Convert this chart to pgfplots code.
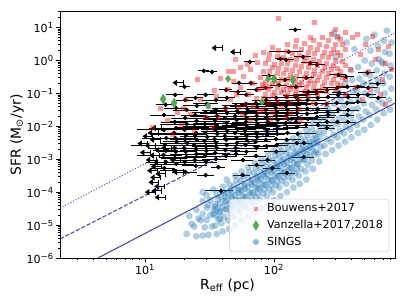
\documentclass[border=0pt]{standalone}
\usepackage{fontspec}
\setmainfont{DejaVu Sans}
\usepackage{pgfplots}
\usepackage{pgfplotstable}
\pgfplotsset{compat=1.18}
\definecolor{singsblue}{HTML}{1F77B4}
\definecolor{lineblue}{RGB}{35,35,165}
\definecolor{vgreen}{RGB}{77,172,77}
\pgfdeclareplotmark{ulim}{%
  \pgfpathmoveto{\pgfqpoint{0pt}{-2pt}}\pgfpathlineto{\pgfqpoint{0pt}{2pt}}%
  \pgfpathmoveto{\pgfqpoint{0pt}{0pt}}\pgfpathlineto{\pgfqpoint{-6pt}{0pt}}%
  \pgfusepathqstroke
  \pgfpathmoveto{\pgfqpoint{-7pt}{0pt}}\pgfpathlineto{\pgfqpoint{-4.6pt}{1.7pt}}%
  \pgfpathlineto{\pgfqpoint{-4.6pt}{-1.7pt}}\pgfpathclose
  \pgfusepathqfillstroke}
\pgfplotsset{myleg/.style={legend image code/.code={\path (-14.4pt,0pt) (3pt,0pt);\draw[##1] plot coordinates {(0pt,0pt)};}}}

\pgfplotstableread{
R S
21 5.4e-6
23 1.1e-5
22 1.9e-5
25 4.6e-6
24 9.1e-6
26 1.6e-5
25 2.9e-5
28 1.0e-4
28 4.8e-6
29 8.6e-6
27 1.4e-5
28 2.2e-5
30 3.4e-5
28 5.4e-5
31 5.1e-6
33 9.1e-6
30 1.45e-5
32 2.0e-5
34 2.9e-5
31 4.1e-5
32 5.8e-5
30 8.1e-5
36 5.4e-6
35 9.7e-6
37 1.5e-5
34 2.2e-5
36 3.1e-5
35 4.3e-5
37 6.1e-5
36 8.6e-5
34 1.2e-4
40 6.5e-6
39 1.15e-5
41 1.8e-5
38 2.6e-5
40 3.6e-5
42 5.1e-5
39 7.2e-5
41 1.0e-4
40 1.45e-4
45 7.7e-6
44 1.4e-5
46 2.2e-5
43 3.1e-5
45 4.3e-5
47 6.1e-5
44 8.6e-5
46 1.2e-4
45 1.7e-4
43 2.4e-4
50 1.0e-5
49 1.8e-5
52 2.9e-5
48 4.1e-5
51 5.8e-5
50 8.1e-5
53 1.15e-4
49 1.6e-4
51 2.3e-4
50 3.2e-4
56 1.4e-5
55 2.4e-5
58 3.8e-5
54 5.4e-5
57 7.7e-5
56 1.1e-4
59 1.5e-4
55 2.2e-4
57 3.1e-4
56 4.3e-4
63 1.8e-5
62 3.2e-5
65 5.1e-5
61 7.2e-5
64 1.0e-4
63 1.45e-4
66 2.0e-4
62 2.9e-4
64 4.1e-4
63 5.8e-4
71 2.4e-5
70 4.3e-5
73 6.8e-5
69 9.7e-5
72 1.4e-4
71 1.9e-4
74 2.7e-4
70 3.8e-4
72 5.4e-4
71 7.7e-4
79 3.2e-5
78 5.8e-5
82 9.1e-5
77 1.3e-4
80 1.8e-4
79 2.6e-4
83 3.6e-4
78 5.1e-4
81 7.2e-4
80 1.0e-3
89 4.3e-5
88 7.7e-5
92 1.2e-4
87 1.7e-4
90 2.4e-4
89 3.4e-4
93 4.8e-4
88 6.8e-4
91 9.7e-4
90 1.4e-3
100 5.8e-5
98 1.0e-4
103 1.6e-4
97 2.3e-4
101 3.2e-4
100 4.6e-4
104 6.5e-4
98 9.1e-4
102 1.3e-3
100 1.8e-3
112 7.7e-5
110 1.4e-4
115 2.2e-4
109 3.1e-4
113 4.3e-4
112 6.1e-4
116 8.6e-4
110 1.2e-3
114 1.7e-3
112 2.4e-3
126 1.0e-4
124 1.8e-4
129 2.9e-4
122 4.1e-4
127 5.8e-4
126 8.1e-4
130 1.15e-3
124 1.6e-3
128 2.3e-3
126 3.2e-3
141 1.4e-4
139 2.4e-4
145 3.8e-4
137 5.4e-4
143 7.7e-4
141 1.1e-3
146 1.5e-3
139 2.2e-3
144 3.1e-3
141 4.3e-3
158 1.8e-4
156 3.2e-4
162 5.1e-4
154 7.2e-4
160 1.0e-3
158 1.45e-3
164 2.0e-3
156 2.9e-3
161 4.1e-3
158 5.8e-3
178 2.4e-4
175 4.3e-4
182 6.8e-4
173 9.7e-4
180 1.4e-3
178 1.9e-3
184 2.7e-3
175 3.8e-3
181 5.4e-3
178 7.7e-3
200 5.1e-4
196 9.1e-4
205 1.45e-3
198 2.0e-3
203 2.9e-3
200 4.1e-3
207 5.8e-3
197 8.1e-3
202 1.3e-2
224 8.6e-4
220 1.5e-3
230 2.4e-3
218 3.4e-3
226 4.8e-3
222 6.8e-3
232 1.1e-2
225 1.7e-2
251 1.45e-3
246 2.6e-3
258 4.1e-3
244 6.5e-3
255 1.0e-2
250 1.8e-2
260 3.6e-2
282 1.9e-3
276 3.4e-3
290 5.4e-3
279 8.6e-3
286 1.4e-2
280 2.4e-2
292 4.8e-2
316 2.6e-3
310 4.6e-3
325 7.2e-3
312 1.15e-2
320 1.8e-2
318 3.2e-2
328 6.5e-2
314 0.126
355 3.4e-3
348 6.1e-3
362 9.7e-3
352 1.5e-2
358 2.4e-2
350 4.3e-2
365 8.6e-2
356 0.2
398 4.6e-3
390 8.1e-3
410 1.3e-2
395 2.0e-2
402 3.2e-2
388 5.8e-2
412 0.115
400 0.25
395 0.5
447 6.3e-3
440 1.1e-2
455 2.0e-2
445 3.5e-2
452 6.3e-2
438 0.126
458 0.28
448 0.63
501 7.9e-3
490 1.6e-2
515 2.8e-2
498 5.0e-2
508 0.1
495 0.2
512 0.4
505 1.0
562 1.1e-2
550 2.2e-2
575 4.5e-2
558 8.9e-2
568 0.18
555 0.35
572 0.8
560 2.0
631 1.6e-2
620 3.2e-2
645 6.3e-2
628 0.126
640 0.25
625 0.5
650 1.1
635 2.8
708 2.5e-2
695 5.0e-2
720 0.1
705 0.2
715 0.4
700 0.8
725 1.8
710 4.0
794 3.2e-2
780 6.3e-2
810 0.14
790 0.32
800 0.7
785 1.6
815 3.5
290 7.0
310 5.0
365 3.5
300 1.3
420 2.2
600 6.0
750 8.0
520 4.5
680 0.9
35 2.0e-5
35 3.6e-5
38 2.5e-5
38 4.5e-5
38 1.6e-5
42 3.0e-5
42 5.5e-5
42 7.5e-5
47 4.0e-5
47 7.0e-5
47 1.0e-4
47 2.8e-5
53 5.5e-5
53 9.5e-5
53 1.3e-4
53 3.8e-5
59 7.0e-5
59 1.25e-4
59 1.8e-4
59 5.0e-5
67 9.5e-5
67 1.7e-4
67 2.4e-4
67 6.5e-5
75 1.3e-4
75 2.3e-4
75 3.2e-4
75 9.0e-5
84 1.7e-4
84 3.0e-4
84 4.2e-4
84 1.2e-4
95 2.3e-4
95 4.1e-4
95 5.8e-4
95 1.6e-4
106 3.0e-4
106 5.4e-4
106 7.6e-4
106 2.1e-4
119 4.0e-4
119 7.2e-4
119 1.0e-3
119 2.8e-4
134 5.4e-4
134 9.6e-4
134 1.35e-3
134 3.8e-4
150 7.2e-4
150 1.3e-3
150 1.8e-3
150 5.0e-4
168 9.5e-4
168 1.7e-3
168 2.4e-3
190 1.3e-3
190 2.3e-3
190 3.3e-3
212 1.7e-3
212 3.1e-3
212 4.3e-3
}\sings

\pgfplotstableread{
R S ex
14.0 0.0078 0.38
14.6 0.0044 0.3
14.2 0.0027 0.45
14.8 0.0019 0.22
13.9 0.00135 0.38
14.5 0.00083 0.3
14.1 0.00054 0.22
14.4 0.045 0.15
14.0 0.022 0.22
17.0 0.0136 0.22
17.4 0.0089 0.38
16.8 0.0063 0.3
17.2 0.0044 0.45
17.6 0.0034 0.22
16.9 0.0022 0.38
17.3 0.0017 0.3
17.0 0.0011 0.22
17.5 0.00072 0.38
16.7 0.00047 0.22
17.1 0.09 0.15
17.4 0.036 0.2
20.5 0.018 0.22
21.0 0.0118 0.38
20.2 0.0078 0.3
20.8 0.0055 0.45
20.4 0.0041 0.22
21.2 0.0031 0.38
20.1 0.0022 0.3
20.7 0.0017 0.22
20.9 0.00117 0.38
20.3 0.00083 0.3
20.6 0.00041 0.22
20.5 0.063 0.15
21.0 0.0315 0.22
20.2 0.158 0.1
24.5 0.022 0.22
25.1 0.0146 0.38
24.2 0.0096 0.3
24.9 0.0063 0.45
24.4 0.0051 0.22
25.3 0.0039 0.38
24.0 0.0027 0.3
24.8 0.0021 0.22
25.0 0.00145 0.38
24.3 0.00095 0.3
24.7 0.00063 0.22
24.6 0.073 0.15
25.2 0.042 0.22
29.4 0.027 0.22
30.1 0.018 0.38
29.0 0.0118 0.3
29.8 0.0089 0.45
29.3 0.0063 0.22
30.3 0.0048 0.38
28.9 0.0036 0.3
29.7 0.0025 0.22
29.9 0.0018 0.38
29.2 0.00126 0.3
29.6 0.00083 0.22
29.5 0.00033 0.15
28.5 0.483 0.1
29.5 0.09 0.15
30.0 0.048 0.22
35.2 0.0315 0.22
36.0 0.0207 0.38
34.8 0.0146 0.3
35.7 0.0103 0.45
35.1 0.0078 0.22
36.3 0.0059 0.38
34.6 0.0041 0.3
35.6 0.0031 0.22
35.9 0.0022 0.38
35.0 0.00155 0.3
35.4 0.00102 0.22
37.0 0.00058 0.12
38.7 0.00011 0.25
33.0 0.45 0.1
35.5 0.063 0.22
42.0 0.036 0.22
43.1 0.0255 0.38
41.7 0.018 0.3
42.8 0.0127 0.45
42.3 0.0096 0.22
43.4 0.0072 0.38
41.5 0.0051 0.3
42.6 0.0039 0.22
42.9 0.0027 0.38
41.9 0.0019 0.3
42.4 0.00126 0.22
42.5 0.128 0.12
43.0 0.073 0.15
50.5 0.042 0.22
51.7 0.029 0.38
50.0 0.0207 0.3
51.3 0.0157 0.45
50.8 0.011 0.22
52.0 0.0083 0.38
49.8 0.0063 0.3
51.1 0.0044 0.22
51.4 0.0031 0.38
50.3 0.0022 0.3
50.9 0.00145 0.22
57.0 0.00033 0.15
53.5 0.208 0.12
52.5 0.111 0.15
60.5 0.048 0.22
61.8 0.034 0.38
60.0 0.024 0.3
61.4 0.018 0.45
60.7 0.0136 0.22
62.2 0.0096 0.38
59.6 0.0072 0.3
61.2 0.0051 0.22
61.6 0.0039 0.38
60.2 0.0027 0.3
60.9 0.0017 0.22
57.5 0.00095 0.2
65.0 0.905 0.1
66.0 0.208 0.12
61.0 0.09 0.15
72.5 0.051 0.22
74.0 0.039 0.38
71.8 0.027 0.3
73.5 0.0207 0.45
72.8 0.0157 0.22
74.4 0.0118 0.38
71.5 0.0089 0.3
73.2 0.0063 0.22
73.7 0.0048 0.38
72.2 0.0034 0.3
73.0 0.0022 0.22
72.6 0.00126 0.2
73.3 0.00067 0.15
73.0 0.128 0.15
87.0 0.063 0.22
88.6 0.045 0.38
86.0 0.0315 0.3
88.0 0.024 0.45
87.2 0.018 0.22
89.1 0.0136 0.38
85.7 0.0103 0.3
87.8 0.0072 0.22
88.3 0.0055 0.38
86.5 0.0039 0.3
87.4 0.0025 0.22
89.0 0.00095 0.15
97.0 0.00054 0.15
91.0 0.34 0.12
86.0 0.147 0.15
104 0.073 0.22
106 0.051 0.38
103 0.036 0.3
105.5 0.027 0.45
104.5 0.0207 0.22
106.5 0.0157 0.38
102.5 0.011 0.3
105.2 0.0083 0.22
105.8 0.0059 0.38
103.6 0.0041 0.3
104.8 0.0027 0.22
104.3 0.0017 0.2
109 0.181 0.15
112 1.12 0.1
125 0.078 0.22
127.5 0.055 0.38
124 0.042 0.3
126.8 0.0315 0.45
125.6 0.022 0.22
128 0.0168 0.38
123.5 0.0127 0.3
126.3 0.0089 0.22
126.9 0.0063 0.38
125.2 0.0039 0.3
126 0.00038 0.15
130 1.82 0.3
124 1.04 0.15
122 0.257 0.15
150 0.084 0.22
153 0.063 0.38
149 0.045 0.3
152 0.034 0.45
150.6 0.0255 0.22
153.5 0.018 0.38
148.3 0.0136 0.3
151.4 0.0096 0.22
152.2 0.0059 0.38
150.2 0.0031 0.3
146 8.51 0.1
148 0.158 0.15
147 0.078 0.22
179 0.09 0.22
182 0.063 0.38
178 0.048 0.3
181 0.034 0.45
180 0.024 0.22
183 0.0168 0.38
177 0.011 0.3
170 0.0031 0.15
170 0.00117 0.2
168 1.29 0.15
190 0.845 0.15
178 0.296 0.15
185 0.111 0.15
214 0.104 0.22
218 0.073 0.38
212 0.048 0.3
217 0.0315 0.22
215 0.0193 0.38
219 0.011 0.3
215 0.735 0.15
213 0.111 0.15
257 0.128 0.22
262 0.078 0.15
255 0.048 0.3
260 0.027 0.22
263 0.022 0.15
258 0.0136 0.22
256 0.0089 0.15
308 0.147 0.22
312 0.09 0.15
306 0.051 0.3
314 0.0315 0.15
310 0.0136 0.22
315 0.365 0.15
320 0.104 0.12
370 0.158 0.15
375 0.078 0.22
368 0.051 0.15
374 0.0315 0.22
371 0.022 0.12
373 0.0136 0.15
362 0.318 0.15
444 0.158 0.15
448 0.09 0.2
445 0.055 0.15
530 0.42 0.15
536 0.147 0.2
532 0.09 0.15
635 0.195 0.15
642 0.073 0.15
}\blk

\pgfplotstableread{
R S
13.5 0.0089
12.6 0.0063
13.1 0.0039
12.0 0.0026
14.3 0.0019
13.0 0.0013
12.2 0.00095
14.0 0.0008
13.4 0.0006
12.5 0.00045
14.5 0.00036
13.2 0.00028
12.8 0.0002
14.2 0.00015
13.5 0.00011
12.0 0.0001
14.3 0.00007
19.7 0.00041
18.7 0.00095
11.0 0.0016
10.5 0.003
11.5 0.005
16.0 0.0022
39.5 2.4
55.0 1.8
19.7 0.21
}\ulimtab

\pgfplotstableread{
R S
11.5 0.0089
14.8 0.0146
19.0 0.0103
19.7 0.034
17.7 0.0255
22.3 0.0222
24.0 0.0068
25.3 0.257
26.7 0.063
29.2 0.018
30.8 0.039
34.3 0.119
36.1 0.078
38.1 0.276
33.1 0.0089
20.8 0.063
16.2 0.0055
13.1 0.034
41.7 0.0315
36.8 0.018
44.0 0.451
48.1 0.224
48.1 0.451
50.7 0.090
54.5 0.147
57.5 0.318
59.6 0.045
62.9 0.090
65.2 0.518
67.5 0.194
71.2 1.38
73.8 0.845
75.1 0.128
77.9 0.296
45.6 0.063
52.6 0.036
56.5 0.0222
61.8 0.735
68.7 0.039
72.5 0.068
80.7 0.181
76.5 0.0274
43.2 0.128
49.9 1.04
54.5 0.595
82.2 1.70
82.2 0.451
82.2 0.147
82.2 0.068
82.2 0.0315
89.8 1.04
89.8 0.296
89.8 0.128
89.8 0.048
96.5 2.41
96.5 0.595
96.5 0.194
96.5 0.084
96.5 0.0255
105.5 1.29
105.5 0.392
105.5 0.147
105.5 0.055
107.4 18.4
113.3 0.788
113.3 0.257
113.3 0.104
113.3 0.036
123.9 1.82
123.9 0.518
123.9 0.169
123.9 0.078
133.0 1.04
133.0 0.340
133.0 0.128
133.0 0.051
133.0 0.0238
145.5 2.59
145.5 0.685
145.5 0.224
145.5 0.090
156.2 1.38
156.2 0.451
156.2 0.169
156.2 0.063
156.2 0.0315
170.8 3.2
170.8 0.906
170.8 0.296
170.8 0.111
183.4 1.70
183.4 0.595
183.4 0.194
183.4 0.078
204.3 13.9
200.6 3.94
200.6 1.04
200.6 0.365
200.6 0.137
200.6 0.048
215.5 2.10
215.5 0.685
215.5 0.240
215.5 0.090
235.6 4.86
235.6 1.29
235.6 0.451
235.6 0.158
253.0 2.59
253.0 0.788
253.0 0.296
253.0 0.111
253.0 0.045
276.6 6.0
276.6 1.59
276.6 0.518
276.6 0.194
297.1 8.5
297.1 2.98
297.1 0.97
297.1 0.340
297.1 0.128
324.8 4.23
324.8 1.38
324.8 0.451
324.8 0.169
355.1 6.9
355.1 2.10
355.1 0.685
355.1 0.257
355.1 0.090
402.4 4.86
440.0 6.0
464.2 1.48
507.5 2.98
535.5 0.451
575.1 5.2
606.7 1.04
640.0 2.10
687.3 0.257
725.3 0.788
765.0 2.59
807.0 0.518
424.6 0.147
481.1 0.063
554.9 0.128
663.2 0.090
388.3 0.518
725.3 0.045
93.1 0.0157
121.7 0.018
159.1 0.0146
65.2 0.0146
86 0.8
86 0.22
86 0.095
93 1.5
93 0.45
93 0.16
101 0.75
101 0.25
101 0.11
109 2.0
109 0.55
109 0.2
118 1.2
118 0.4
118 0.13
128 3.0
128 0.8
128 0.27
128 0.1
139 1.6
139 0.5
139 0.16
150 4.0
150 1.1
150 0.33
150 0.12
163 2.2
163 0.65
163 0.22
177 1.2
177 0.4
177 0.15
192 5.0
192 2.5
192 0.8
192 0.25
207 1.6
207 0.5
207 0.2
225 3.0
225 0.95
225 0.33
225 0.12
244 1.8
244 0.6
244 0.22
265 4.0
265 1.2
265 0.4
287 2.2
287 0.7
287 0.26
310 5.5
310 1.7
310 0.55
310 0.2
340 3.0
340 0.9
340 0.3
}\bouw

\begin{document}
\begin{tikzpicture}
\begin{axis}[
  xmode=log, ymode=log,
  scale only axis, width=241.2pt, height=177.5pt,
  xmin=2.19, xmax=867, ymin=1e-6, ymax=30.5,
  tick pos=left, tick align=outside,
  major tick length=2.8pt, minor tick length=1.6pt,
  major tick style={line width=0.64pt, black},
  minor tick style={line width=0.48pt, black},
  axis line style={line width=0.64pt},
  xtick={10,100}, xticklabels={10\textsuperscript{1},10\textsuperscript{2}},
  minor xtick={3,4,5,6,7,8,9,20,30,40,50,60,70,80,90,200,300,400,500,600,700,800},
  ytick={1e-6,1e-5,1e-4,1e-3,1e-2,1e-1,1,10},
  yticklabels={10\textsuperscript{−6},10\textsuperscript{−5},10\textsuperscript{−4},10\textsuperscript{−3},10\textsuperscript{−2},10\textsuperscript{−1},10\textsuperscript{0},10\textsuperscript{1}},
  minor ytick={2e-6,3e-6,4e-6,5e-6,6e-6,7e-6,8e-6,9e-6,2e-5,3e-5,4e-5,5e-5,6e-5,7e-5,8e-5,9e-5,2e-4,3e-4,4e-4,5e-4,6e-4,7e-4,8e-4,9e-4,2e-3,3e-3,4e-3,5e-3,6e-3,7e-3,8e-3,9e-3,2e-2,3e-2,4e-2,5e-2,6e-2,7e-2,8e-2,9e-2,0.2,0.3,0.4,0.5,0.6,0.7,0.8,0.9,2,3,4,5,6,7,8,9,20,30},
  tick label style={font=\fontsize{8}{9.6}\selectfont},
  yticklabel style={inner sep=1.5pt},
  xticklabel style={inner sep=1.5pt},
  xlabel={R\textsubscript{eff} (pc)},
  ylabel={SFR (M\textsubscript{⊙}/yr)},
  label style={font=\fontsize{8}{9.6}\selectfont},
  every axis x label/.style={at={(axis description cs:0.5,0)}, yshift=-19.6pt, anchor=center},
  every axis y label/.style={at={(axis description cs:0,0.5)}, xshift=-31pt, anchor=center, rotate=90},
  legend style={at={(1,0)}, anchor=south east, xshift=-4.3pt, yshift=4.3pt,
    draw=black!20, rounded corners=2pt, fill=white, fill opacity=0.8, text opacity=1,
    font=\fontsize{8}{9.6}\selectfont, inner xsep=4.3pt, inner ysep=3.3pt,
    row sep=4.3pt, column sep=4.9pt,
    nodes={inner sep=0pt, text height=6pt, text depth=1.6pt}},
  legend cell align=left,
]
\addlegendimage{only marks, mark=square*, mark size=1.5pt, mark options={draw opacity=0, fill=red, fill opacity=0.4}, myleg}
\addlegendentry{Bouwens+2017}
\addlegendimage{only marks, mark=diamond*, mark size=3.8pt, mark options={xscale=0.8, draw opacity=0, fill=vgreen, fill opacity=1}, myleg}
\addlegendentry{Vanzella+2017,2018}
\addlegendimage{only marks, mark=*, mark size=2.2pt, mark options={draw opacity=0, fill=singsblue, fill opacity=0.5}, myleg}
\addlegendentry{SINGS}

\addplot[only marks, mark=*, mark size=2.5pt, mark options={draw opacity=0, fill=singsblue, fill opacity=0.36}, forget plot] table[x=R, y=S] {\sings};

\addplot[only marks, mark=*, mark size=1.4pt, black, forget plot,
  error bars/.cd, x dir=both, x explicit relative, y dir=both, y fixed relative=0.15,
  error mark=none, error bar style={line width=0.55pt, black}]
  table[x=R, y=S, x error=ex] {\blk};

\addplot[only marks, mark=ulim, black, line width=0.6pt, forget plot] table[x=R, y=S] {\ulimtab};

\addplot[lineblue, opacity=0.85, line width=0.75pt, forget plot] coordinates {(4.3,1e-6) (867,0.051)};
\addplot[lineblue, opacity=0.85, line width=0.75pt, dash pattern=on 3pt off 1.3pt, forget plot] coordinates {(2.19,3.8e-6) (867,0.6)};
\addplot[lineblue, opacity=0.7, line width=0.75pt, dash pattern=on 0.8pt off 1.3pt, forget plot] coordinates {(2.19,3.3e-5) (867,6.9)};

\addplot[only marks, mark=square*, mark size=1.8pt, mark options={draw opacity=0, fill=red, fill opacity=0.4}, forget plot] table[x=R, y=S] {\bouw};

\addplot[only marks, mark=diamond*, mark size=3.9pt, mark options={xscale=0.8, draw opacity=0, fill=vgreen}, forget plot] coordinates {(13.8,0.068) (16.8,0.051) (100,0.275) (140,0.257)};
\addplot[only marks, mark=diamond*, mark size=2.8pt, mark options={draw opacity=0, fill=vgreen}, forget plot] coordinates {(30.8,0.042) (44,0.275) (80.7,0.055) (89.8,0.275)};
\end{axis}
\pgfresetboundingbox
\path ([xshift=-43.2pt,yshift=-33.8pt]current axis.south west) rectangle ([xshift=8.6pt,yshift=8.3pt]current axis.north east);
\end{tikzpicture}
\end{document}
